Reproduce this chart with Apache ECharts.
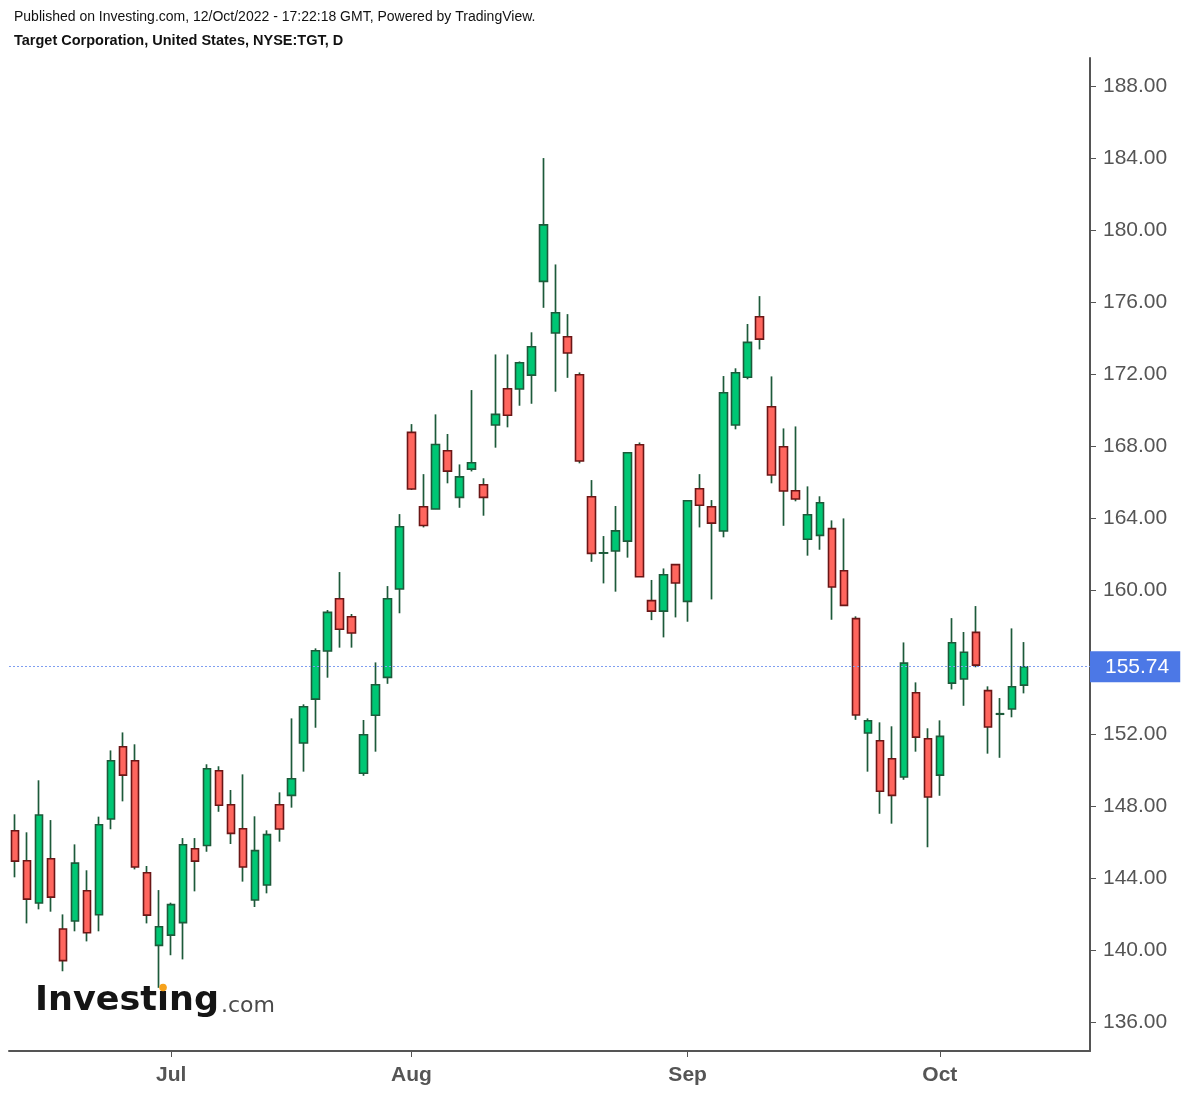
<!DOCTYPE html>
<html>
<head>
<meta charset="utf-8">
<script src="https://cdn.jsdelivr.net/npm/echarts@6/dist/echarts.min.js"></script>
<style>
html,body{margin:0;padding:0;background:#fff;}
#main{width:1186px;height:1094px;}
</style>
</head>
<body>
<div id="main"></div>
<script>
// ---- data ----
const dates = [
  '2022-06-13','2022-06-14','2022-06-15','2022-06-16','2022-06-17','2022-06-21','2022-06-22','2022-06-23','2022-06-24',
  '2022-06-27','2022-06-28','2022-06-29','2022-06-30',
  '2022-07-01','2022-07-05','2022-07-06','2022-07-07','2022-07-08','2022-07-11','2022-07-12','2022-07-13','2022-07-14','2022-07-15',
  '2022-07-18','2022-07-19','2022-07-20','2022-07-21','2022-07-22','2022-07-25','2022-07-26','2022-07-27','2022-07-28','2022-07-29',
  '2022-08-01','2022-08-02','2022-08-03','2022-08-04','2022-08-05','2022-08-08','2022-08-09','2022-08-10','2022-08-11','2022-08-12',
  '2022-08-15','2022-08-16','2022-08-17','2022-08-18','2022-08-19','2022-08-22','2022-08-23','2022-08-24','2022-08-25','2022-08-26',
  '2022-08-29','2022-08-30','2022-08-31',
  '2022-09-01','2022-09-02','2022-09-06','2022-09-07','2022-09-08','2022-09-09','2022-09-12','2022-09-13','2022-09-14','2022-09-15',
  '2022-09-16','2022-09-19','2022-09-20','2022-09-21','2022-09-22','2022-09-23','2022-09-26','2022-09-27','2022-09-28','2022-09-29','2022-09-30',
  '2022-10-03','2022-10-04','2022-10-05','2022-10-06','2022-10-07','2022-10-10','2022-10-11','2022-10-12'
];
// empty future slots on the right of the chart
const futureDates = ['2022-10-13','2022-10-14','2022-10-17','2022-10-18','2022-10-19'];

const opens = [
  146.63,144.96,142.61,145.07,141.17,141.61,143.29,141.96,147.28,151.29,150.52,144.29,140.26,
  140.83,141.52,145.63,145.81,149.96,148.07,146.74,142.78,143.61,148.07,148.59,151.50,153.94,156.61,159.52,158.52,149.82,153.04,155.15,160.06,
  168.76,164.63,164.50,167.74,165.15,166.72,165.85,169.17,171.18,171.17,171.94,177.15,174.28,174.07,171.96,165.18,162.05,162.17,162.72,168.07,159.41,158.83,161.41,
  159.37,165.63,164.63,163.28,169.17,171.82,175.18,170.18,167.96,165.52,162.82,163.04,163.41,161.07,158.41,152.06,151.63,150.63,149.61,154.29,151.74,
  149.72,154.83,155.06,157.65,154.41,153.10,153.39,154.72
];
const highs = [
  147.54,146.54,149.43,147.22,141.98,145.87,144.43,147.41,151.09,152.09,151.43,144.67,143.33,
  142.63,146.22,146.22,150.32,150.21,148.89,149.76,147.43,146.65,148.76,152.87,153.65,156.76,158.89,161.00,158.67,152.78,155.98,160.22,164.22,
  169.22,166.44,169.76,168.67,166.98,171.11,166.21,173.09,173.09,172.70,174.32,184.00,178.09,175.33,172.09,166.11,163.00,164.67,167.63,168.20,160.56,161.20,161.41,
  164.96,166.44,165.00,171.89,172.32,174.78,176.33,171.87,168.98,169.09,165.76,165.21,163.87,163.98,158.54,152.87,152.65,152.43,157.09,154.87,152.32,
  152.76,158.44,157.67,159.11,154.65,154.00,157.87,157.11
];
const lows = [
  144.04,141.48,142.26,142.13,138.82,141.04,140.48,141.04,146.71,148.26,144.48,141.48,137.90,
  139.71,139.48,143.26,145.46,147.68,145.89,143.80,142.39,143.15,146.02,147.91,149.91,152.35,155.13,156.80,156.80,149.68,151.02,154.79,158.71,
  165.56,163.48,164.50,165.93,164.57,166.59,164.13,167.91,169.04,170.24,170.35,175.68,171.02,171.79,167.04,161.57,160.37,159.91,161.80,160.74,158.33,157.37,158.48,
  158.24,163.48,159.48,162.93,168.93,171.71,173.37,165.93,163.57,164.93,161.91,162.24,158.35,159.15,152.79,149.91,147.57,147.02,149.46,151.02,145.71,
  148.57,154.48,153.57,155.71,150.91,150.68,152.93,154.26
];
const closes = [
  144.94,142.83,147.50,142.94,139.41,144.83,140.96,146.96,150.52,149.72,144.61,141.94,141.29,
  142.52,145.85,144.94,150.07,148.04,146.48,144.61,145.52,146.41,146.72,149.52,153.52,156.63,158.76,157.82,157.61,151.96,154.74,159.52,163.52,
  165.61,163.59,168.09,166.61,166.29,167.07,165.15,169.76,169.71,172.63,173.52,180.29,175.41,173.17,167.17,162.04,162.07,163.29,167.63,160.74,158.83,160.85,160.39,
  164.96,164.71,163.72,170.96,172.07,173.76,173.94,166.39,165.50,165.06,164.18,164.85,160.17,159.15,153.06,152.74,148.82,148.59,155.94,151.83,148.50,
  151.87,157.07,156.54,155.83,152.39,153.13,154.63,155.74
];
const lastPrice = 155.74;

const tickDates  = ['2022-07-01','2022-08-01','2022-09-01','2022-10-03'];
const tickLabels = ['Jul','Aug','Sep','Oct'];
const yTicks = [136,140,144,148,152,156,160,164,168,172,176,180,184,188];

// ---- build ----
const categories = dates.concat(futureDates);
const fullData = dates.map((d,i)=>[opens[i], closes[i], lows[i], highs[i]]);
const bodyData = dates.map((d,i)=>[opens[i], closes[i], Math.min(opens[i],closes[i]), Math.max(opens[i],closes[i])]);

const WICK = '#1d5a3a';
const UP = '#00c774', UP_B = '#1d5a3a';
const DN = '#ff665e', DN_B = '#6b1616';
const AX = '#555555';

const chart = echarts.init(document.getElementById('main'), null, {renderer:'canvas'});

// logo text metrics (fit to reference extent)
const cv = document.createElement('canvas').getContext('2d');
const logoFont = 'bold 34px "DejaVu Sans"';
cv.font = logoFont;
const logoX = 35;
const wInvest = cv.measureText('Invest').width;
const wI = cv.measureText('\u0131').width;
const wAll = cv.measureText('Invest\u0131ng').width;
const logoScale = 184 / wAll;
const dotX = logoX + (wInvest + wI/2) * logoScale;
const comFont = '21px "DejaVu Sans"';
cv.font = comFont;
const comScale = 54 / cv.measureText('.com').width;
const comX = 221;

const isTick = (idx, val) => tickDates.indexOf(val) >= 0;

chart.setOption({
  animation: false,
  backgroundColor: '#ffffff',
  grid: {left: 9, right: 96, top: 58, bottom: 43, containLabel: false},
  xAxis: {
    type: 'category',
    data: categories,
    boundaryGap: true,
    axisLine: {show: true, lineStyle: {color: AX, width: 2}},
    axisTick: {show: true, interval: isTick, alignWithLabel: true, length: 6, lineStyle: {color: AX, width: 1}},
    axisLabel: {
      interval: isTick,
      margin: 14,
      color: AX,
      fontFamily: '"Liberation Sans Narrow", "Arial Narrow", sans-serif',
      fontWeight: 'bold',
      fontSize: 21,
      formatter: v => { const k = tickDates.indexOf(v); return k >= 0 ? tickLabels[k] : ''; }
    },
    splitLine: {show: false}
  },
  yAxis: {
    type: 'value',
    position: 'right',
    min: 134.39,
    max: 189.56,
    axisLine: {show: true, onZero: false, lineStyle: {color: AX, width: 2}},
    axisTick: {show: true, length: 6, customValues: yTicks, lineStyle: {color: AX, width: 1}},
    axisLabel: {
      show: true, margin: 13, color: AX, fontSize: 21,
      fontFamily: '"Liberation Sans", Arial, sans-serif',
      customValues: yTicks,
      formatter: v => v.toFixed(2)
    },
    splitLine: {show: false}
  },
  series: [
    {
      name: 'wick',
      type: 'candlestick',
      data: fullData,
      barWidth: 1,
      z: 2,
      itemStyle: {color: WICK, color0: WICK, borderColor: WICK, borderColor0: WICK, borderColorDoji: WICK, borderWidth: 1.7},
      emphasis: {disabled: true}
    },
    {
      name: 'body',
      type: 'candlestick',
      data: bodyData,
      barWidth: 8,
      z: 3,
      itemStyle: {color: UP, color0: DN, borderColor: UP_B, borderColor0: DN_B, borderColorDoji: WICK, borderWidth: 1.6},
      emphasis: {disabled: true},
      markLine: {
        silent: true,
        symbol: ['none','none'],
        z: 4,
        lineStyle: {color: '#7f9ef0', width: 1, type: [2,2]},
        label: {
          show: true,
          position: 'end',
          distance: 0,
          formatter: () => lastPrice.toFixed(2),
          color: '#ffffff',
          fontSize: 21,
          lineHeight: 22,
          fontFamily: '"Liberation Sans", Arial, sans-serif',
          backgroundColor: '#4c78e6',
          padding: [5, 11, 4, 15]
        },
        data: [{yAxis: lastPrice}]
      }
    }
  ],
  graphic: [
    {type: 'text', left: 14, top: 10, z: 10, style: {text: 'Published on Investing.com, 12/Oct/2022 - 17:22:18 GMT, Powered by TradingView.', font: '14px "Liberation Sans", Arial, sans-serif', fill: '#111'}},
    {type: 'text', left: 14, top: 33, z: 10, style: {text: 'Target Corporation, United States, NYSE:TGT, D', font: 'bold 14.5px "Liberation Sans", Arial, sans-serif', fill: '#111'}},
    {type: 'text', x: logoX, y: 984, scaleX: logoScale, z: 10, style: {text: 'Invest\u0131ng', font: logoFont, fill: '#151515', verticalAlign: 'top'}},
    {type: 'circle', z: 11, shape: {cx: dotX, cy: 987.5, r: 3.8}, style: {fill: '#f6a21c'}},
    {type: 'text', x: comX, y: 996, scaleX: comScale, z: 10, style: {text: '.com', font: comFont, fill: '#4a4a4a', verticalAlign: 'top'}}
  ]
});
</script>
</body>
</html>
